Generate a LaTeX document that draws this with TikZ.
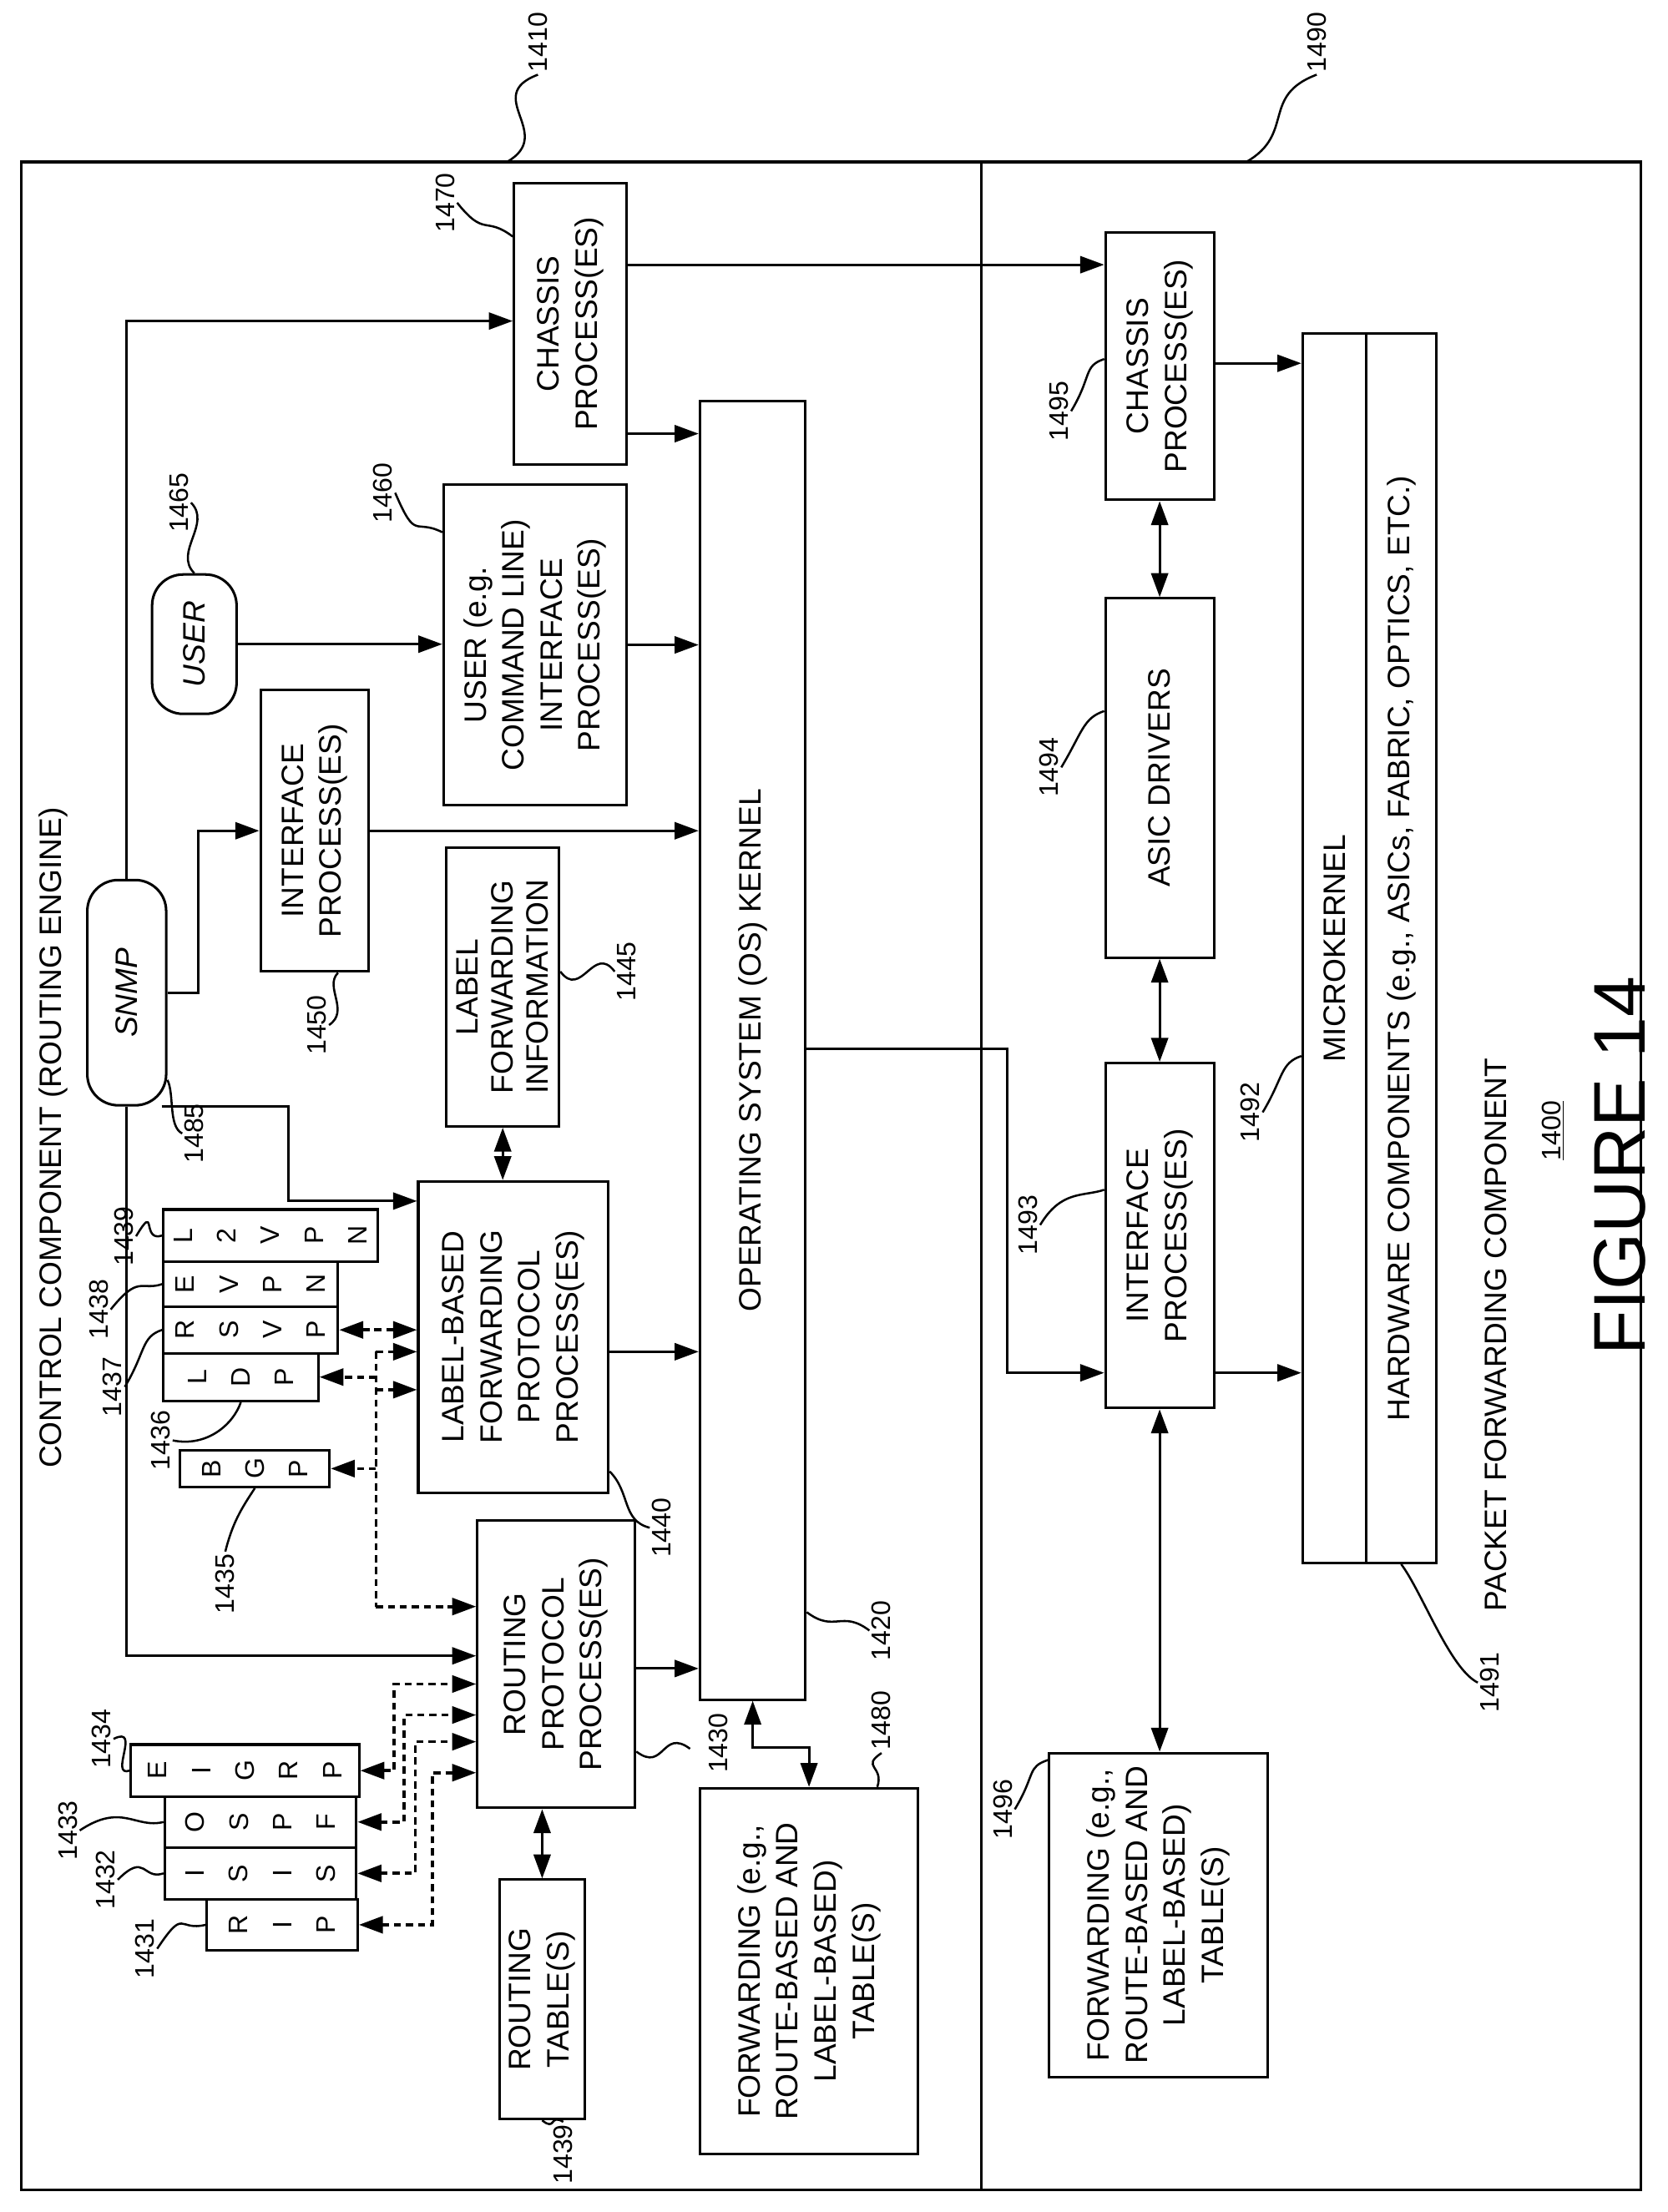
\documentclass[tikz,border=0pt]{standalone}
\usepackage{fontspec}
\setmainfont{Liberation Sans}
\usetikzlibrary{arrows.meta}

\begin{document}
\begin{tikzpicture}[x=1pt,y=-1pt,line width=1.8pt,>={Triangle[length=17pt,width=12pt]}]
    \tikzstyle{box}=[draw,rotate=90,align=center,inner sep=2pt,font=\fontsize{22}{27}\selectfont]
    \tikzstyle{oval}=[box,rounded corners=22pt,font=\fontsize{22}{27}\selectfont\itshape]
    \tikzstyle{stack}=[draw,rotate=90,align=center,inner sep=0pt,font=\fontsize{19}{31}\selectfont]
    \tikzstyle{lbl}=[rotate=90,inner sep=1pt,font=\fontsize{19}{22}\selectfont]
    \tikzstyle{lead}=[line width=1.5pt]
    \tikzstyle{dots}=[dash pattern=on 5pt off 3.5pt,line width=2.2pt]

    \useasboundingbox (0,0) rectangle (1184,1571);

    % Frames
    \draw (15,115) rectangle (697,1555);
    \draw (697,115) rectangle (1165,1555);
    \node[lbl,font=\fontsize{22}{26}\selectfont] (cc) at (38,808) {CONTROL COMPONENT (ROUTING ENGINE)};
    \node[lbl,font=\fontsize{22}{26}\selectfont] (pfc) at (1062,948) {PACKET FORWARDING COMPONENT};
    \node[lbl,font=\fontsize{52}{60}\selectfont] (fig) at (1150,828) {FIGURE 14};
    \node[lbl] (n1400) at (1103,803) {\underline{1400}};

    % Control component boxes
    \node[box,minimum width=200pt,minimum height=80pt] (chassis) at (405,230) {CHASSIS\\PROCESS(ES)};
    \node[box,minimum width=922pt,minimum height=75pt] (os) at (534.5,746) {OPERATING SYSTEM (OS) KERNEL};
    \node[box,minimum width=228pt,minimum height=130pt] (cli) at (380,458) {USER (e.g.\\COMMAND LINE)\\INTERFACE\\PROCESS(ES)};
    \node[oval,minimum width=99pt,minimum height=60pt] (user) at (138,457.5) {USER};
    \node[box,minimum width=200pt,minimum height=77pt] (ifp) at (223.5,590) {INTERFACE\\PROCESS(ES)};
    \node[oval,minimum width=160pt,minimum height=56pt] (snmp) at (90,705) {SNMP};
    \node[box,minimum width=198pt,minimum height=80pt,font=\fontsize{22}{25}\selectfont] (lfi) at (357,701) {LABEL\\FORWARDING\\INFORMATION};
    \node[box,minimum width=221pt,minimum height=135pt] (lbp) at (364.5,949.5) {LABEL-BASED\\FORWARDING\\PROTOCOL\\PROCESS(ES)};
    \node[box,minimum width=204pt,minimum height=112pt] (rpp) at (395,1182) {ROUTING\\PROTOCOL\\PROCESS(ES)};
    \node[box,minimum width=170pt,minimum height=60pt] (rt) at (385,1420) {ROUTING\\TABLE(S)};
    \node[box,minimum width=260pt,minimum height=155pt] (fwd) at (574.5,1400) {FORWARDING (e.g.,\\ROUTE-BASED AND\\LABEL-BASED)\\TABLE(S)};

    % Protocol stacks
    \node[stack,minimum height=107pt,minimum width=36pt] (rip) at (200.5,1367) {R\\I\\P};
    \node[stack,minimum height=136pt,minimum width=37pt] (isis) at (185,1330.5) {I\\S\\I\\S};
    \node[stack,minimum height=136pt,minimum width=36pt] (ospf) at (185,1294) {O\\S\\P\\F};
    \node[stack,minimum height=162pt,minimum width=37pt] (eigrp) at (174,1257.5) {E\\I\\G\\R\\P};
    \node[stack,minimum height=106pt,minimum width=26pt] (bgp) at (181,1043) {B\\G\\P};
    \node[stack,minimum height=110pt,minimum width=34pt] (ldp) at (171,978) {L\\D\\P};
    \node[stack,minimum height=124pt,minimum width=33pt] (rsvp) at (178,944.5) {R\\S\\V\\P};
    \node[stack,minimum height=124pt,minimum width=32pt] (evpn) at (178,912) {E\\V\\P\\N};
    \node[stack,minimum height=152pt,minimum width=37pt] (l2vpn) at (192,877.5) {L\\2\\V\\P\\N};

    % Packet forwarding component boxes
    \node[box,minimum width=190pt,minimum height=77pt] (chassis2) at (823.5,260) {CHASSIS\\PROCESS(ES)};
    \node[box,minimum width=255pt,minimum height=77pt] (asic) at (823.5,552.5) {ASIC DRIVERS};
    \node[box,minimum width=245pt,minimum height=77pt] (ifp2) at (823.5,877.5) {INTERFACE\\PROCESS(ES)};
    \node[box,minimum width=873pt,minimum height=45pt] (mk) at (947.5,673.5) {MICROKERNEL};
    \node[box,minimum width=873pt,minimum height=50pt] (hw) at (995,673.5) {HARDWARE COMPONENTS (e.g., ASICs, FABRIC, OPTICS, ETC.)};
    \node[box,minimum width=230pt,minimum height=155pt] (fwd2) at (822.5,1360) {FORWARDING (e.g.,\\ROUTE-BASED AND\\LABEL-BASED)\\TABLE(S)};

    % Connectors in the control component
    \draw[->] (snmp.east) |- (chassis.north |- 0,228);
    \draw[->] (snmp.west) |- (rpp.north |- 0,1176);
    \draw[->] (snmp.south) -- ++(22,0) |- (ifp.north);
    \draw[->] (snmp.197) -| (205,853) -- (lbp.north |- 0,853);
    \draw[->] (user.south) -- (cli.north |- user.south);
    \draw[->] (cli.south) -- (os.north |- cli.south);
    \draw[->] (ifp.south) -- (os.north |- ifp.south);
    \draw[->] (chassis.south |- 0,308) -- (os.north |- 0,308);
    \draw[->] (chassis.south |- 0,188) -- (chassis2.north |- 0,188);
    \draw[<->] (lfi.west) -- (lfi.west |- lbp.east);
    \draw[->] (lbp.south |- 0,960) -- (os.north |- 0,960);
    \draw[->] (rpp.south |- 0,1185) -- (os.north |- 0,1185);
    \draw[<->] (rpp.west -| rt.east) -- (rt.east);
    \draw[<->] (os.west) -- ++(0,33) -| (fwd.east);
    \draw[->] (os.south |- 0,745) -| (715,975) -- (ifp2.north |- 0,975);

    % Dotted links to the protocol stacks
    \draw[dots] (267,960) -- (267,1141);
    \draw[dots,->] (267,960) -- (lbp.north |- 0,960);
    \draw[dots,->] (267,987) -- (lbp.north |- 0,987);
    \draw[dots,<->] (rsvp.south) -- (lbp.north |- rsvp.south);
    \draw[dots,->] (267,978) -- (ldp.south);
    \draw[dots,->] (267,1043) -- (bgp.south);
    \draw[dots,->] (267,1141) -- (rpp.north |- 0,1141);
    \draw[dots,<->] (eigrp.south) -| (280,1196) -- (rpp.north |- 0,1196);
    \draw[dots,<->] (ospf.south) -| (287,1218) -- (rpp.north |- 0,1218);
    \draw[dots,<->] (isis.south) -| (295,1237) -- (rpp.north |- 0,1237);
    \draw[dots,<->] (rip.south) -| (307,1259) -- (rpp.north |- 0,1259);

    % Connectors in the packet forwarding component
    \draw[->] (chassis2.south |- 0,258) -- (mk.north |- 0,258);
    \draw[<->] (chassis2.west) -- (asic.east);
    \draw[<->] (asic.west) -- (ifp2.east);
    \draw[->] (ifp2.south |- 0,975) -- (mk.north |- 0,975);
    \draw[<->] (ifp2.west) -- (ifp2.west |- fwd2.east);

    % Reference numerals
    \node[lbl] (n1410) at (382,30) {1410};
    \draw[lead] (n1410.west) .. controls +(-40,15) and +(35,-20) .. (360,115);
    \node[lbl] (n1490) at (935,30) {1490};
    \draw[lead] (n1490.west) .. controls +(-40,15) and +(35,-20) .. (885,115);
    \node[lbl] (n1470) at (316,144) {1470};
    \draw[lead] (n1470.south) .. controls +(20,25) and +(-20,-15) .. (chassis.north |- 0,168);
    \node[lbl] (n1465) at (127,357) {1465};
    \draw[lead] (n1465.south) .. controls +(15,15) and +(-15,-15) .. (user.east);
    \node[lbl] (n1460) at (272,350) {1460};
    \draw[lead] (n1460.south) .. controls +(15,35) and +(-20,-10) .. (cli.north |- 0,378);
    \node[lbl] (n1485) at (138,805) {1485};
    \draw[lead] (n1485.north) .. controls +(-10,-5) and +(5,10) .. (snmp.205);
    \node[lbl] (n1450) at (225,728) {1450};
    \draw[lead] (n1450.south) .. controls +(15,-10) and +(-10,10) .. (ifp.west -| 240,0);
    \node[lbl] (n1445) at (445,690) {1445};
    \draw[lead] (n1445.north) .. controls +(-15,-20) and +(15,20) .. (lfi.south |- 0,690);
    \node[lbl] (n1439a) at (88,878) {1439};
    \draw[lead] (n1439a.south) .. controls +(15,-25) and +(-15,5) .. (l2vpn.north);
    \node[lbl] (n1438) at (70,930) {1438};
    \draw[lead] (n1438.south) .. controls +(20,-25) and +(-15,5) .. (evpn.north);
    \node[lbl] (n1437) at (80,985) {1437};
    \draw[lead] (n1437.south) .. controls +(15,-25) and +(-15,5) .. (rsvp.north);
    \node[lbl] (n1436) at (114,1023) {1436};
    \draw[lead] (n1436.south) .. controls +(25,5) and +(-5,15) .. (ldp.west);
    \node[lbl] (n1435) at (160,1125) {1435};
    \draw[lead] (n1435.east) .. controls +(5,-20) and +(-10,15) .. (bgp.west);
    \node[lbl] (n1434) at (72,1235) {1434};
    \draw[lead] (n1434.south) .. controls +(20,-10) and +(-15,5) .. (eigrp.north);
    \node[lbl] (n1433) at (48,1300) {1433};
    \draw[lead] (n1433.south) .. controls +(30,-20) and +(-20,5) .. (ospf.north);
    \node[lbl] (n1432) at (75,1335) {1432};
    \draw[lead] (n1432.south) .. controls +(20,-20) and +(-15,5) .. (isis.north);
    \node[lbl] (n1431) at (103,1384) {1431};
    \draw[lead] (n1431.south) .. controls +(20,-30) and +(-20,5) .. (rip.north);
    \node[lbl] (n1440) at (470,1085) {1440};
    \draw[lead] (n1440.north) .. controls +(-20,-5) and +(15,15) .. (lbp.south |- 0,1045);
    \node[lbl] (n1430) at (510,1238) {1430};
    \draw[lead] (rpp.south |- 0,1244) .. controls +(20,15) and +(-20,-15) .. (490,1242);
    \node[lbl] (n1420) at (626,1158) {1420};
    \draw[lead] (os.south |- 0,1145) .. controls +(20,15) and +(-20,-15) .. (n1420.north);
    \node[lbl] (n1480) at (626,1222) {1480};
    \draw[lead] (n1480.west) .. controls +(-15,10) and +(5,-15) .. (fwd.east -| 623,0);
    \node[lbl] (n1439b) at (400,1530) {1439};
    \draw[lead] (rt.west) .. controls +(10,8) and +(-10,-6) .. (n1439b.east);
    \node[lbl] (n1495) at (752,292) {1495};
    \draw[lead] (n1495.south) .. controls +(15,-25) and +(-15,5) .. (chassis2.north |- 0,255);
    \node[lbl] (n1494) at (745,545) {1494};
    \draw[lead] (n1494.south) .. controls +(15,-25) and +(-15,5) .. (asic.north |- 0,505);
    \node[lbl] (n1493) at (730,870) {1493};
    \draw[lead] (n1493.south) .. controls +(15,-25) and +(-15,5) .. (ifp2.north |- 0,845);
    \node[lbl] (n1492) at (888,790) {1492};
    \draw[lead] (n1492.south) .. controls +(15,-25) and +(-15,5) .. (mk.north |- 0,750);
    \node[lbl] (n1491) at (1058,1195) {1491};
    \draw[lead] (hw.west) .. controls +(15,20) and +(-20,-10) .. (n1491.north);
    \node[lbl] (n1496) at (712,1285) {1496};
    \draw[lead] (n1496.south) .. controls +(15,-25) and +(-15,5) .. (fwd2.north |- 0,1250);
\end{tikzpicture}
\end{document}
